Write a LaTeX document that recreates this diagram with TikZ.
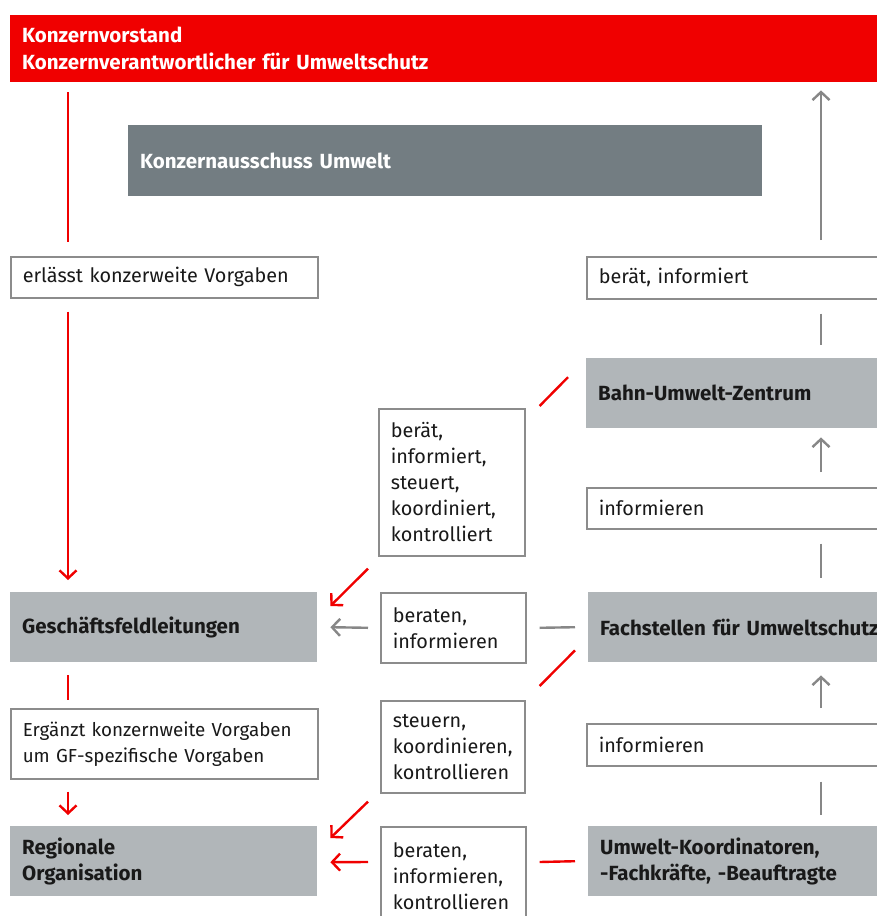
\documentclass[tikz,border=0pt]{standalone}
\usepackage{fontspec}
\setmainfont{Fira Sans}
\usetikzlibrary{arrows.meta}
\definecolor{dbred}{RGB}{240,0,0}
\definecolor{darkbox}{RGB}{115,125,130}
\definecolor{lightbox}{RGB}{177,182,185}
\definecolor{rimgray}{RGB}{140,140,140}
\definecolor{linegray}{RGB}{135,135,135}
\definecolor{inkdark}{RGB}{25,25,25}

\begin{document}
\begin{tikzpicture}[x=1pt,y=-1pt,
    base box/.style={anchor=north west,inner xsep=12pt,inner ysep=0pt,align=left,
        text=inkdark,font=\fontsize{19.8}{26}\selectfont},
    head box/.style={base box,fill=dbred,text=white,font=\fontsize{20.5}{27}\selectfont\bfseries},
    dark box/.style={base box,fill=darkbox,text=white,font=\fontsize{20.5}{26}\selectfont\bfseries},
    unit box/.style={base box,fill=lightbox,font=\fontsize{20.5}{26}\selectfont\bfseries},
    note box/.style={base box,fill=white,draw=rimgray,line width=1.6pt},
    red line/.style={draw=dbred,line width=2.4pt},
    gray line/.style={draw=linegray,line width=2.4pt},
    tip/.style={-{Straight Barb[length=8pt,width=17pt,line width=2.4pt]}}]

    \useasboundingbox (0,0) rectangle (877,916);
    \clip (0,0) rectangle (877,916);

    % Define boxes
    \node[head box,text width=876pt,minimum height=67pt] (vorstand) at (10,15)
        {Konzernvorstand\\Konzernverantwortlicher für Umweltschutz};
    \node[dark box,text width=610pt,minimum height=71pt] (ausschuss) at (128,125)
        {Konzernausschuss Umwelt};

    \node[note box,text width=283pt,minimum height=41pt] (erlaesst) at (10,256)
        {erlässt konzerweite Vorgaben};
    \node[unit box,text width=283pt,minimum height=70pt] (gfl) at (10,592)
        {Geschäftsfeldleitungen};
    \node[note box,text width=283pt,minimum height=70pt,font=\fontsize{18.8}{26}\selectfont] (ergaenzt) at (10,708)
        {Ergänzt konzernweite Vorgaben\\um GF-spezifische Vorgaben};
    \node[unit box,text width=283pt,minimum height=70pt] (regio) at (10,826)
        {Regionale\\Organisation};

    \node[note box,text width=300pt,minimum height=42pt] (beraetinf) at (586,256)
        {berät, informiert};
    \node[unit box,text width=300pt,minimum height=70pt] (buz) at (586,358)
        {Bahn-Umwelt-Zentrum};
    \node[note box,text width=300pt,minimum height=41pt] (inf1) at (586,487)
        {informieren};
    \node[unit box,text width=300pt,minimum height=70pt] (fach) at (588,592)
        {Fachstellen für Umweltschutz};
    \node[note box,text width=300pt,minimum height=42pt] (inf2) at (586,723)
        {informieren};
    \node[unit box,text width=300pt,minimum height=70pt] (ukb) at (588,826)
        {Umwelt-Koordinatoren,\\-Fachkräfte, -Beauftragte};

    \node[note box,text width=122pt,minimum height=147pt] (mid1) at (378,408)
        {berät,\\informiert,\\steuert,\\koordiniert,\\kontrolliert};
    \node[note box,text width=121pt,minimum height=70pt] (mid2) at (380,592)
        {beraten,\\informieren};
    \node[note box,text width=120pt,minimum height=92pt] (mid3) at (380,700)
        {steuern,\\koordinieren,\\kontrollieren};
    \node[note box,text width=121pt,minimum height=98pt] (mid4) at (380,826)
        {beraten,\\informieren,\\kontrollieren};

    % Draw connectors, left column
    \path[red line]
        ([shift={(58,10)}]vorstand.south west) edge ([shift={(58,-14)}]erlaesst.north west)
        ([shift={(58,13)}]erlaesst.south west) edge[tip] ([shift={(58,-12)}]gfl.north west)
        ([shift={(58,13)}]gfl.south west) edge ([shift={(58,-8)}]ergaenzt.north west)
        ([shift={(58,12)}]ergaenzt.south west) edge[tip] ([shift={(58,-11)}]regio.north west);

    % Draw connectors, right column
    \path[gray line]
        ([shift={(235,-16)}]beraetinf.north west) edge[tip] ([shift={(811,8)}]vorstand.south west)
        ([shift={(235,14)}]beraetinf.south west) edge ([shift={(235,-13)}]buz.north west)
        ([shift={(235,-15)}]inf1.north west) edge[tip] ([shift={(235,9)}]buz.south west)
        ([shift={(235,14)}]inf1.south west) edge ([shift={(233,-14)}]fach.north west)
        ([shift={(235,-15)}]inf2.north west) edge[tip] ([shift={(233,13)}]fach.south west)
        ([shift={(235,15)}]inf2.south west) edge ([shift={(233,-11)}]ukb.north west);

    % Draw connectors, middle
    \path[red line]
        ([shift={(14,-2)}]mid1.north east) edge ([shift={(-18,-16)}]buz.west)
        ([shift={(-10,12)}]mid1.south west) edge[tip] ([shift={(13,14)}]gfl.north east)
        ([shift={(-13,-12)}]fach.south west) edge ([shift={(14,-14)}]mid3.north east)
        ([shift={(-12,8)}]mid3.south west) edge[tip] ([shift={(13,12)}]regio.north east)
        ([shift={(-12,36)}]mid4.north west) edge[tip] ([shift={(13,1)}]regio.east)
        ([shift={(-13,0)}]ukb.west) edge ([shift={(13,36)}]mid4.north east);
    \path[gray line]
        ([shift={(-12,0)}]mid2.west) edge[tip] ([shift={(13,0)}]gfl.east)
        ([shift={(-13,0)}]fach.west) edge ([shift={(13,0)}]mid2.east);

\end{tikzpicture}
\end{document}
